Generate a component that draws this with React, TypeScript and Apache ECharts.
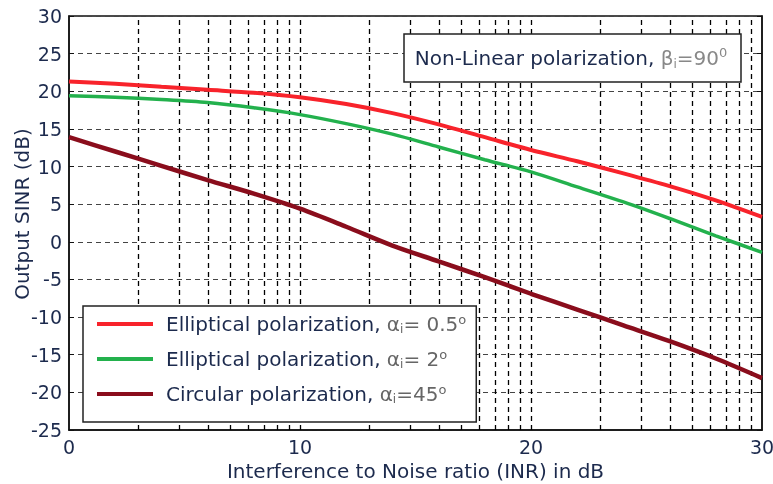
import React, { useEffect, useRef } from "react";
import * as echarts from "echarts";

const inr = [0, 2, 4, 6, 8, 10, 12, 14, 16, 18, 20, 22, 24, 26, 28, 30];
const ellipticalHalf = [21.3, 21.0, 20.6, 20.2, 19.8, 19.2, 18.3, 17.1, 15.6, 13.9, 12.2, 10.7, 9.1, 7.4, 5.5, 3.3];
const ellipticalTwo = [19.4, 19.2, 18.9, 18.5, 17.8, 16.9, 15.7, 14.3, 12.6, 10.9, 9.3, 7.3, 5.3, 3.1, 0.8, -1.4];
const circular = [13.9, 12.0, 10.1, 8.2, 6.4, 4.4, 2.0, -0.5, -2.6, -4.7, -6.9, -9.0, -11.1, -13.2, -15.5, -18.1];
const seriesNames = [
  "Elliptical polarization, αi= 0.5°",
  "Elliptical polarization, αi= 2°",
  "Circular polarization, αi=45°",
];
const legendPrefix = ["Elliptical polarization, ", "Elliptical polarization, ", "Circular polarization, "];
const legendAlpha = ["= 0.5", "= 2", "=45"];
const colors = ["#f8232b", "#23b14d", "#8a0d1c"];
const xTicks = [0, 10, 20, 30];
const yTicks = [-25, -20, -15, -10, -5, 0, 5, 10, 15, 20, 25, 30];

// log-style grid positions within each 10 dB decade
const gridX: number[] = [];
for (let d = 0; d < 3; d++) {
  for (let k = 2; k <= 10; k++) {
    const v = 10 * d + 10 * Math.log10(k);
    if (v < 29.99) gridX.push(v);
  }
}

const FONT = "DejaVu Sans";
const NAVY = "#1c2a4d";
const GREY = "#666";

export default function App() {
  const ref = useRef<HTMLDivElement>(null);
  useEffect(() => {
    const chart = echarts.init(ref.current!, null, { renderer: "svg" });
    const mk = (vals: number[]) => inr.map((x, i) => [x, vals[i]]);
    const data = [ellipticalHalf, ellipticalTwo, circular];
    const widths = [4, 3.5, 4.5];
    chart.setOption({
      animation: false,
      textStyle: { fontFamily: FONT },
      grid: {
        left: 69, right: 11, top: 16, bottom: 54,
        outerBoundsMode: "none", containLabel: false,
        show: true, borderColor: "#111", borderWidth: 1.5, backgroundColor: "#fff",
      },
      xAxis: {
        type: "value", min: xTicks[0], max: xTicks[xTicks.length - 1], interval: 10,
        name: "Interference to Noise ratio (INR) in dB",
        nameLocation: "middle", nameGap: 31, nameMoveOverlap: false,
        nameTextStyle: { fontSize: 20, color: NAVY, fontFamily: FONT },
        axisLine: { onZero: false, lineStyle: { color: "#111", width: 1.5 } },
        axisTick: { show: false },
        axisLabel: { fontSize: 19, color: NAVY, margin: 7, fontFamily: FONT },
        splitLine: { show: false },
      },
      yAxis: [
        {
          type: "value", min: yTicks[0], max: yTicks[yTicks.length - 1], interval: 5,
          name: "Output SINR (dB)", nameLocation: "middle", nameGap: 37, nameMoveOverlap: false,
          nameTextStyle: { fontSize: 20, color: NAVY, fontFamily: FONT, padding: [0, 0, 0, 18] },
          axisLine: { show: true, lineStyle: { color: "#111", width: 1.5 } },
          axisTick: { show: true, inside: true, length: 5, lineStyle: { color: "#111" } },
          axisLabel: { fontSize: 19, color: NAVY, margin: 7, fontFamily: FONT },
          splitLine: { show: true, lineStyle: { color: "#444", type: [5, 4], width: 1.2 } },
        },
        {
          type: "value", min: yTicks[0], max: yTicks[yTicks.length - 1], interval: 5,
          position: "right",
          axisLine: { show: true, lineStyle: { color: "#111", width: 1.5 } },
          axisTick: { show: true, inside: true, length: 5, lineStyle: { color: "#111" } },
          axisLabel: { show: false },
          splitLine: { show: false },
        },
      ],
      legend: {
        data: seriesNames,
        orient: "vertical",
        left: 83, top: 306,
        z: 10,
        backgroundColor: "#fff",
        borderColor: "#222", borderWidth: 1.5, borderRadius: 0,
        padding: [7, 10, 17, 14],
        icon: "rect",
        itemWidth: 56, itemHeight: 4, itemGap: 13,
        formatter: (name: string) => {
          const i = seriesNames.indexOf(name);
          return `{t|${legendPrefix[i]}}{a|α}{s|i}{a|${legendAlpha[i]}}{d|o}`;
        },
        textStyle: {
          fontFamily: FONT,
          rich: {
            t: { fontSize: 20, color: NAVY, fontFamily: FONT, lineHeight: 22, padding: [0, 0, 0, 8] },
            a: { fontSize: 20, color: GREY, fontFamily: FONT, lineHeight: 22 },
            s: { fontSize: 12, color: GREY, fontFamily: FONT, verticalAlign: "bottom", lineHeight: 12 },
            d: { fontSize: 13, color: GREY, fontFamily: FONT, verticalAlign: "top", lineHeight: 12 },
          },
        },
      },
      series: [
        {
          type: "line", name: "grid", data: [], z: 1, silent: true,
          markLine: {
            z: 1, silent: true, symbol: ["none", "none"], label: { show: false },
            lineStyle: { color: "#000", type: [5, 4], width: 1.3 },
            data: gridX.map((v) => ({ xAxis: v })),
          },
        },
        ...data.map((vals, i) => ({
          type: "line", name: seriesNames[i], data: mk(vals), smooth: 0.3,
          showSymbol: false, symbol: "none", z: 3,
          lineStyle: { color: colors[i], width: widths[i] },
          itemStyle: { color: colors[i] },
        })),
      ],
      graphic: [
        {
          type: "rect", z: 100,
          shape: { x: 404, y: 34, width: 337, height: 48 },
          style: { fill: "#fff", stroke: "#222", lineWidth: 1.5 },
        },
        {
          type: "text", x: 571, y: 58, z: 101,
          style: {
            text: "{n|Non-Linear polarization, }{b|β}{s|i}{b|=90}{p|0}",
            align: "center", verticalAlign: "middle",
            rich: {
              n: { fontSize: 20, fill: NAVY, fontFamily: FONT, lineHeight: 24 },
              b: { fontSize: 20, fill: "#888", fontFamily: FONT, lineHeight: 24 },
              s: { fontSize: 12, fill: "#888", fontFamily: FONT, verticalAlign: "bottom", lineHeight: 12 },
              p: { fontSize: 13, fill: "#888", fontFamily: FONT, verticalAlign: "top", lineHeight: 12 },
            },
          },
        },
      ],
    });
    return () => chart.dispose();
  }, []);
  return <div ref={ref} style={{ position: "fixed", left: 0, top: 0, width: 773, height: 484 }} />;
}
